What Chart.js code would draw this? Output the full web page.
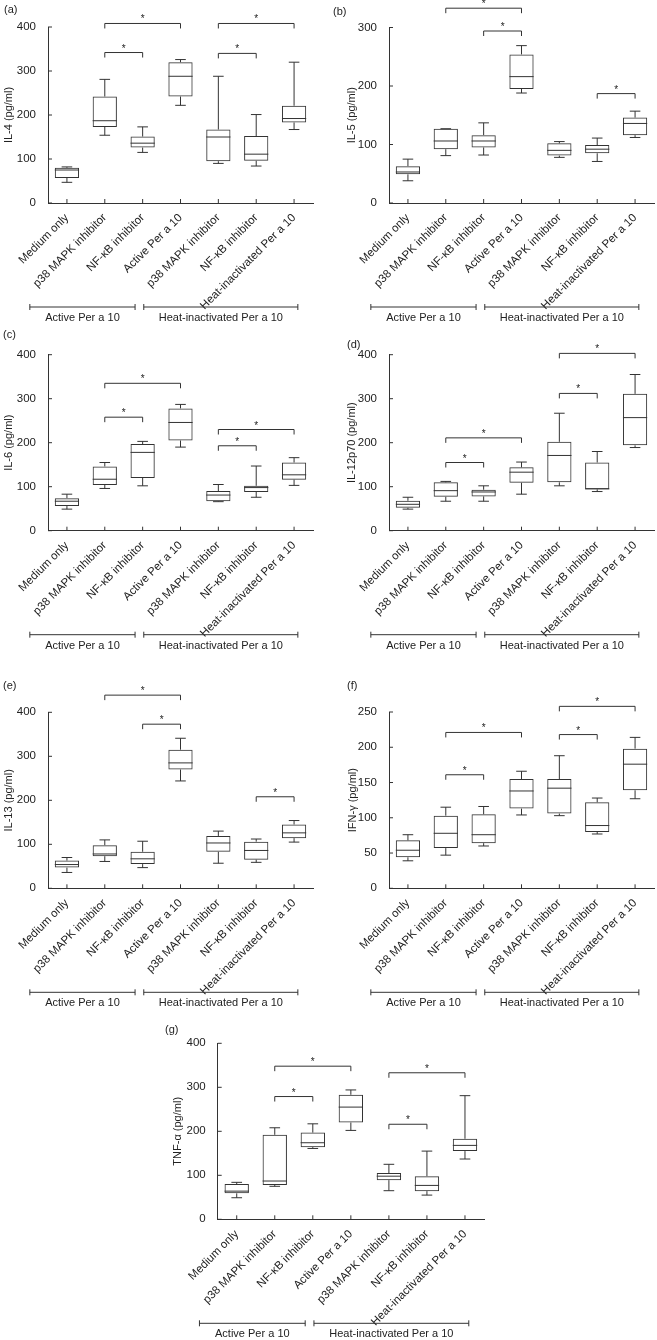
<!DOCTYPE html>
<html>
<head>
<meta charset="utf-8">
<script src="https://cdn.jsdelivr.net/npm/chart.js@4/dist/chart.umd.min.js"></script>
<style>
body { margin: 0; background: #fff; }
#pagina { position: relative; width: 657px; height: 1340px; background: #fff; overflow: hidden; }
#pagina canvas { position: absolute; }
</style>
</head>
<body>
<div id="pagina"></div>
<script>
const categorias = ['Medium only', 'p38 MAPK inhibitor', 'NF-κB inhibitor', 'Active Per a 10', 'p38 MAPK inhibitor', 'NF-κB inhibitor', 'Heat-inactivated Per a 10'];
const grupos = ['Active Per a 10', 'Heat-inactivated Per a 10'];

// IL-4
const il4Min = [47, 154, 115, 222, 90, 84, 167];
const il4Q1  = [57, 173, 126, 242, 95, 96, 183];
const il4Med = [75, 187, 136, 288, 150, 111, 192];
const il4Q3  = [80, 242, 151, 320, 167, 152, 221];
const il4Max = [82, 281, 173, 326, 288, 201, 320];
const il4Sig = [[1, 3, 408], [1, 2, 342], [4, 6, 408], [4, 5, 340]];

// IL-5
const il5Min = [38, 81, 82, 188, 78, 71, 112];
const il5Q1  = [49, 92, 95, 195, 81, 85, 116];
const il5Med = [53, 106, 106, 216, 90, 92, 136];
const il5Q3  = [63, 127, 116, 254, 102, 99, 146];
const il5Max = [75, 127, 137, 269, 105, 111, 157];
const il5Sig = [[1, 3, 333], [2, 3, 294], [5, 6, 187]];

// IL-6
const il6Min = [49, 96, 102, 190, 66, 76, 103];
const il6Q1  = [56, 104, 120, 205, 67, 88, 116];
const il6Med = [67, 117, 178, 246, 81, 98, 127];
const il6Q3  = [74, 146, 197, 278, 90, 102, 155];
const il6Max = [83, 155, 203, 287, 105, 147, 166];
const il6Sig = [[1, 3, 335], [1, 2, 258], [4, 6, 230], [4, 5, 193]];

// IL-12p70
const il12Min = [49, 67, 67, 83, 102, 89, 189];
const il12Q1  = [52, 77, 78, 109, 110, 94, 194];
const il12Med = [60, 91, 88, 133, 171, 95, 257];
const il12Q3  = [68, 110, 93, 144, 202, 155, 311];
const il12Max = [76, 112, 102, 156, 267, 180, 355];
const il12Sig = [[1, 3, 211], [1, 2, 155], [4, 5, 312], [4, 6, 403]];

// IL-13
const il13Min = [36, 61, 47, 244, 57, 59, 105];
const il13Q1  = [47, 73, 55, 270, 83, 65, 114];
const il13Med = [54, 78, 67, 285, 103, 86, 126];
const il13Q3  = [63, 98, 83, 315, 119, 106, 145];
const il13Max = [70, 110, 107, 341, 130, 112, 154];
const il13Sig = [[1, 3, 439], [2, 3, 373], [5, 6, 208]];

// IFN-gama
const ifnMin = [39, 47, 60, 104, 103, 77, 127];
const ifnQ1  = [44, 57, 64, 113, 106, 80, 139];
const ifnMed = [54, 78, 76, 138, 142, 89, 176];
const ifnQ3  = [68, 103, 105, 155, 155, 122, 198];
const ifnMax = [76, 115, 116, 166, 188, 128, 214];
const ifnSig = [[1, 3, 221], [1, 2, 161], [4, 5, 218], [4, 6, 258]];

// TNF-alfa
const tnfMin = [49, 75, 161, 202, 65, 55, 137];
const tnfQ1  = [59, 78, 164, 220, 89, 64, 155];
const tnfMed = [64, 87, 174, 255, 98, 77, 168];
const tnfQ3  = [80, 192, 197, 283, 105, 98, 183];
const tnfMax = [84, 208, 217, 294, 125, 155, 281];
const tnfSig = [[1, 3, 348], [1, 2, 279], [4, 6, 333], [4, 5, 216]];

// onde comeca e termina cada faixa de grupo (em unidades de categoria)
const faixasGrupo = [[-0.98, 1.8], [2.03, 6.1]];

const cor = '#333';
const fonte = "'Liberation Sans', Arial, sans-serif";
Chart.defaults.font.family = fonte;
Chart.defaults.font.size = 11;
Chart.defaults.color = '#222';

// tela: [esquerda, topo, largura, altura]; area: [esq, dir, topo, base] em px da pagina
const paineis = [
    { tag: '(a)', titulo: 'IL-4 (pg/ml)', max: 400, passo: 100,
      dados: [il4Min, il4Q1, il4Med, il4Q3, il4Max], sig: il4Sig,
      tela: [0, 0, 328, 330], area: [48, 313, 27, 203], tituloX: 8.5, tagPos: [4, 10] },
    { tag: '(b)', titulo: 'IL-5 (pg/ml)', max: 300, passo: 100,
      dados: [il5Min, il5Q1, il5Med, il5Q3, il5Max], sig: il5Sig,
      tela: [328, 0, 329, 330], area: [389, 654, 27.5, 203], tituloX: 352, tagPos: [333, 12] },
    { tag: '(c)', titulo: 'IL-6 (pg/ml)', max: 400, passo: 100,
      dados: [il6Min, il6Q1, il6Med, il6Q3, il6Max], sig: il6Sig,
      tela: [0, 330, 328, 330], area: [48, 313, 354.7, 530.7], tituloX: 8.5, tagPos: [3, 335] },
    { tag: '(d)', titulo: 'IL-12p70 (pg/ml)', max: 400, passo: 100,
      dados: [il12Min, il12Q1, il12Med, il12Q3, il12Max], sig: il12Sig,
      tela: [328, 330, 329, 330], area: [389, 654, 354.7, 530.7], tituloX: 352, tagPos: [347, 345] },
    { tag: '(e)', titulo: 'IL-13 (pg/ml)', max: 400, passo: 100,
      dados: [il13Min, il13Q1, il13Med, il13Q3, il13Max], sig: il13Sig,
      tela: [0, 660, 328, 350], area: [48, 313, 712.3, 888.3], tituloX: 8.5, tagPos: [3, 686] },
    { tag: '(f)', titulo: 'IFN-γ (pg/ml)', max: 250, passo: 50,
      dados: [ifnMin, ifnQ1, ifnMed, ifnQ3, ifnMax], sig: ifnSig,
      tela: [328, 660, 329, 350], area: [389, 654, 712, 888.3], tituloX: 352.5, tagPos: [347, 686] },
    { tag: '(g)', titulo: 'TNF-α (pg/ml)', max: 400, passo: 100,
      dados: [tnfMin, tnfQ1, tnfMed, tnfQ3, tnfMax], sig: tnfSig,
      tela: [150, 1010, 350, 330], area: [217.7, 484, 1043.3, 1219.3], tituloX: 178, tagPos: [165, 1030] }
];

function linha(ctx, x1, y1, x2, y2) {
    ctx.beginPath();
    ctx.moveTo(x1, y1);
    ctx.lineTo(x2, y2);
    ctx.stroke();
}

// bigodes, medianas, marcas dos eixos, colchetes e grupos
function criarPlugin(p) {
    return {
        id: 'boxPlot',
        afterDraw(chart) {
            const ctx = chart.ctx;
            const x = chart.scales.x;
            const y = chart.scales.y;
            const area = chart.chartArea;
            const passoX = x.getPixelForValue(1) - x.getPixelForValue(0);
            const [vMin, vQ1, vMed, vQ3, vMax] = p.dados;
            const barras = chart.getDatasetMeta(0).data;

            ctx.save();
            ctx.strokeStyle = cor;
            ctx.lineWidth = 1;

            barras.forEach((barra, i) => {
                const cx = x.getPixelForValue(i);
                const meia = barra.width / 2;
                const cap = passoX * 0.14;
                const yMax = y.getPixelForValue(vMax[i]);
                const yMin = y.getPixelForValue(vMin[i]);
                const yMed = y.getPixelForValue(vMed[i]);
                linha(ctx, cx, y.getPixelForValue(vQ3[i]), cx, yMax);
                linha(ctx, cx, y.getPixelForValue(vQ1[i]), cx, yMin);
                linha(ctx, cx - cap, yMax, cx + cap, yMax);
                linha(ctx, cx - cap, yMin, cx + cap, yMin);
                linha(ctx, cx - meia, yMed, cx + meia, yMed);
            });

            // marcas para dentro
            y.ticks.forEach(t => {
                const py = y.getPixelForValue(t.value);
                linha(ctx, area.left, py, area.left + 4, py);
            });
            categorias.forEach((c, i) => {
                const px = x.getPixelForValue(i);
                linha(ctx, px, area.bottom, px, area.bottom - 4);
            });

            ctx.fillStyle = '#222';
            ctx.textAlign = 'center';

            // colchetes de significancia
            p.sig.forEach(([de, ate, nivel]) => {
                const x1 = x.getPixelForValue(de);
                const x2 = x.getPixelForValue(ate);
                const py = y.getPixelForValue(nivel);
                ctx.beginPath();
                ctx.moveTo(x1, py + 5);
                ctx.lineTo(x1, py);
                ctx.lineTo(x2, py);
                ctx.lineTo(x2, py + 5);
                ctx.stroke();
                ctx.font = '10px ' + fonte;
                ctx.textBaseline = 'alphabetic';
                ctx.fillText('*', (x1 + x2) / 2, py - 1);
            });

            // grupos embaixo dos rotulos
            const gy = area.bottom + 104;
            faixasGrupo.forEach(([a, b], k) => {
                const x1 = x.getPixelForValue(a);
                const x2 = x.getPixelForValue(b);
                linha(ctx, x1, gy, x2, gy);
                linha(ctx, x1, gy - 3, x1, gy + 3);
                linha(ctx, x2, gy - 3, x2, gy + 3);
                ctx.font = '11px ' + fonte;
                ctx.textBaseline = 'middle';
                ctx.fillText(grupos[k], (x1 + x2) / 2, gy + 11);
            });

            // letra do painel
            ctx.textAlign = 'left';
            ctx.textBaseline = 'middle';
            ctx.font = '11px ' + fonte;
            ctx.fillText(p.tag, p.tagPos[0] - p.tela[0], p.tagPos[1] - p.tela[1]);
            ctx.restore();
        }
    };
}

const pagina = document.getElementById('pagina');

paineis.forEach(p => {
    const [tl, tt, tw, th] = p.tela;
    const [al, ar, at, ab] = p.area;
    const canvas = document.createElement('canvas');
    canvas.width = tw;
    canvas.height = th;
    canvas.style.left = tl + 'px';
    canvas.style.top = tt + 'px';
    pagina.appendChild(canvas);

    const [vMin, vQ1, vMed, vQ3, vMax] = p.dados;

    new Chart(canvas, {
        type: 'bar',
        data: {
            labels: categorias,
            datasets: [{
                data: vQ1.map((v, i) => [v, vQ3[i]]),
                backgroundColor: 'rgba(255,255,255,0)',
                borderColor: cor,
                borderWidth: 1,
                borderSkipped: false,
                barPercentage: 0.64,
                categoryPercentage: 1
            }]
        },
        options: {
            responsive: false,
            animation: false,
            devicePixelRatio: 1,
            layout: { padding: { top: at - tt, right: tl + tw - ar, bottom: 0, left: 0 } },
            plugins: {
                legend: { display: false },
                tooltip: { enabled: false }
            },
            scales: {
                x: {
                    grid: { display: false },
                    border: { color: cor },
                    ticks: { autoSkip: false, minRotation: 45, maxRotation: 45, padding: 0, font: { size: 11.5 } },
                    afterFit: s => { s.height = tt + th - ab; }
                },
                y: {
                    min: 0,
                    max: p.max,
                    grid: { display: false },
                    border: { color: cor },
                    ticks: { stepSize: p.passo, padding: 4, font: { size: 11.5 } },
                    title: {
                        display: true,
                        text: p.titulo,
                        padding: { top: p.tituloX - tl - 6.6, bottom: 0 }
                    },
                    afterFit: s => { s.width = al - tl; }
                }
            }
        },
        plugins: [criarPlugin(p)]
    });
});
</script>
</body>
</html>
